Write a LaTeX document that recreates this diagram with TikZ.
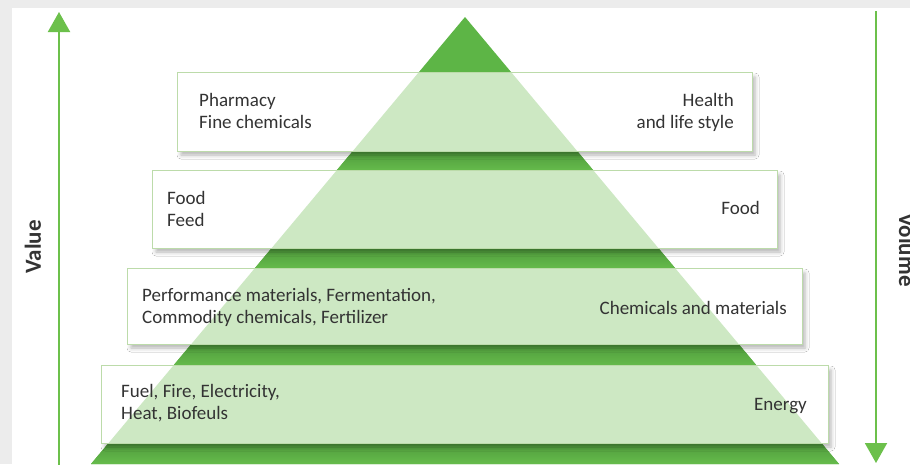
\documentclass[tikz,border=0pt]{standalone}
\usepackage{fontspec}
\setmainfont{Carlito}
\usetikzlibrary{arrows.meta,shadows.blur}
\definecolor{pyr}{HTML}{5DB546}
\definecolor{pyrlight}{HTML}{CDE8C3}
\definecolor{bandtop}{HTML}{4F9B3C}
\definecolor{bandbot}{HTML}{66BC4C}
\definecolor{boxline}{HTML}{BCDBAA}
\definecolor{txt}{HTML}{333333}
\definecolor{arr}{HTML}{6CC04B}
\definecolor{bgc}{HTML}{ECECEC}
\begin{document}
\begin{tikzpicture}[x=1pt,y=-1pt,
  tier/.style={fill=white, inner sep=0pt,
    blur shadow={shadow xshift=3pt, shadow yshift=-4pt, shadow opacity=30, shadow blur radius=4pt}},
  lbl/.style={font=\fontsize{19}{22}\selectfont, text=txt, inner sep=0pt},
  axis/.style={draw=arr, line width=2pt, -{Triangle[length=20pt,width=22pt]}},
  axlbl/.style={font=\fontsize{23}{23}\selectfont\bfseries, text=txt, inner sep=0pt}]
\useasboundingbox (0,0) rectangle (910,464);
\clip (0,0) rectangle (910,464);
% background
\fill[bgc] (0,0) rectangle (910,464);
\fill[white] (12,8) rectangle (910,464);
% pyramid
\coordinate (apex) at (465,17);
\coordinate (bl) at (91,464);
\coordinate (br) at (839,464);
\def\pyrpath{(apex) -- (bl) -- (br) -- cycle}
\fill[pyr] \pyrpath;
\begin{scope}
  \clip \pyrpath;
  \shade[top color=bandtop, bottom color=bandbot] (0,151) rectangle (910,171);
  \shade[top color=bandtop, bottom color=bandbot] (0,248) rectangle (910,269);
  \shade[top color=bandtop, bottom color=bandbot] (0,344) rectangle (910,366);
  \shade[top color=bandtop, bottom color=bandbot] (0,443) rectangle (910,464);
\end{scope}
% tiers
\node[tier, minimum width=574pt, minimum height=78pt] (b1) at (465,112) {};
\node[tier, minimum width=624pt, minimum height=77pt] (b2) at (465,209.5) {};
\node[tier, minimum width=674pt, minimum height=75pt] (b3) at (465,306.5) {};
\node[tier, minimum width=726pt, minimum height=77pt] (b4) at (465,404.5) {};
\foreach \b in {b1,b2,b3,b4}{
  \begin{scope}
    \clip (\b.north west) rectangle (\b.south east);
    \fill[pyrlight] \pyrpath;
  \end{scope}
  \draw[boxline, line width=0.8pt] (\b.north west) rectangle (\b.south east);
}
% texts
\node[lbl, anchor=west, align=left] (t1l) at (199,111) {Pharmacy\\Fine chemicals};
\node[lbl, anchor=east, align=right] (t1r) at (734,112.5) {Health\\and life style};
\node[lbl, anchor=west, align=left] (t2l) at (167,208.5) {Food\\Feed};
\node[lbl, anchor=east, align=right] (t2r) at (760,208) {Food};
\node[lbl, anchor=west, align=left] (t3l) at (142,307) {Performance materials, Fermentation,\\Commodity chemicals, Fertilizer};
\node[lbl, anchor=east, align=right] (t3r) at (787,308) {Chemicals and materials};
\node[lbl, anchor=west, align=left] (t4l) at (121,403) {Fuel, Fire, Electricity,\\Heat, Biofeuls};
\node[lbl, anchor=east, align=right] (t4r) at (807,406) {Energy};
% axes
\coordinate (vb) at (59,470);
\coordinate (vt) at (59,12);
\draw[axis] (vb) -- (vt);
\coordinate (wt) at (876,11);
\coordinate (wb) at (876,463);
\draw[axis] (wt) -- (wb);
\node[axlbl, rotate=90] (val) at (33,247) {Value};
\node[axlbl, rotate=-90] (vol) at (907,250) {Volume};
\end{tikzpicture}
\end{document}
